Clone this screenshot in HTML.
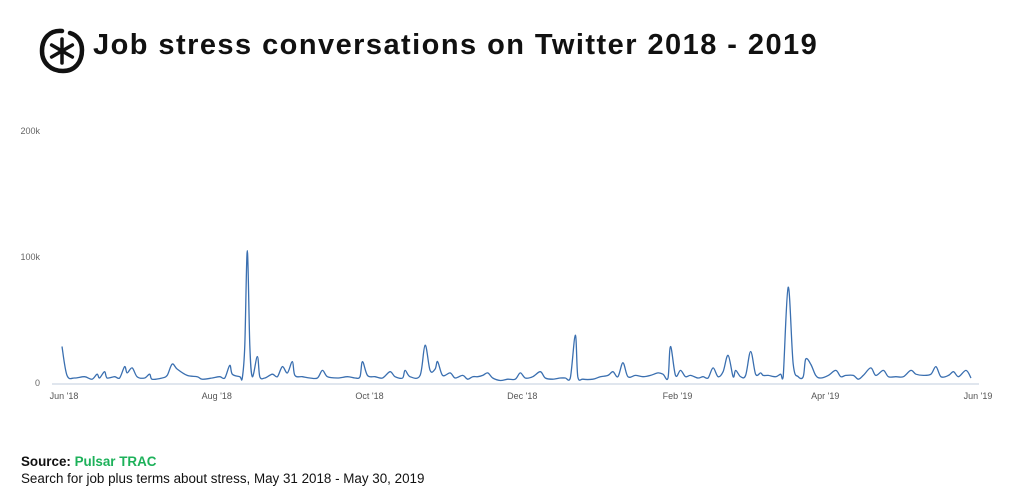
<!DOCTYPE html>
<html><head><meta charset="utf-8">
<style>
body{margin:0;width:1024px;height:500px;background:#fff;font-family:"Liberation Sans",sans-serif;overflow:hidden;position:relative}
.title{position:absolute;left:93px;top:29px;font-size:29px;font-weight:bold;color:#111;letter-spacing:1.45px}
.src{position:absolute;left:21px;top:453px;font-size:13.4px;color:#111;line-height:17px}
</style></head><body>
<svg style="position:absolute;left:38px;top:27px" width="48" height="48" viewBox="0 0 48 48">
<path d="M24 4 C12 3 4 11 4 24 C4 36 13 44 25 44 C37 44 44 35 44 23 C44 14 39 8 32 6" fill="none" stroke="#111" stroke-width="4.5" stroke-linecap="round"/>
<g stroke="#111" stroke-width="3.5" stroke-linecap="round"><line x1="24" y1="12" x2="24" y2="36"/><line x1="13.6" y1="18" x2="34.4" y2="30"/><line x1="13.6" y1="30" x2="34.4" y2="18"/></g>
</svg>
<div class="title">Job stress conversations on Twitter 2018 - 2019</div>
<svg id="chart" style="position:absolute;left:0;top:0" width="1024" height="500"></svg>
<div class="src"><b>Source: <span style="color:#1db15a">Pulsar TRAC</span></b><br>Search for job plus terms about stress, May 31 2018 - May 30, 2019</div>
<script>
const xTickLabels=["Jun '18","Aug '18","Oct '18","Dec '18","Feb '19","Apr '19","Jun '19"];
const xTickDays=[0,61,122,183,245,304,365];
const yTickValues=[0,100,200];
const yTickLabels=["0","100k","200k"];
const days=[0,2,5,9,12,14,15,17,18,21,23,25,26,28,30,33,35,36,40,42,44,46,50,54,56,60,63,65,67,68,71,72,73,74,75,76,78,79,81,84,86,88,90,92,93,96,99,102,104,106,110,114,117,119,120,122,125,128,131,133,136,137,139,143,145,147,149,150,152,155,157,160,162,164,166,168,170,172,175,178,181,183,185,188,191,193,196,199,201,203,205,206,208,212,215,218,220,222,224,226,229,232,235,238,240,242,243,245,247,249,251,254,256,258,260,262,264,266,268,269,271,273,275,277,279,280,282,285,287,288,290,292,294,296,297,299,301,303,306,309,311,313,316,318,320,323,325,328,330,333,336,339,341,344,347,349,351,354,356,358,361,363];
const values=[29,6,4,5,3,7,4,9,4,5,4,13,8,12,5,4,7,3,4,6,15,11,6,5,3,4,5,4,14,7,5,4,30,105,30,5,21,5,4,7,5,13,8,17,6,5,4,4,10,5,4,5,4,5,17,6,5,4,9,5,4,10,5,6,30,10,11,17,6,8,4,6,3,5,5,6,8,4,2,3,3,8,4,5,9,4,3,4,4,4,38,5,3,3,5,6,9,5,16,5,6,5,6,8,7,4,29,6,10,5,6,4,5,4,12,5,9,22,5,10,5,6,25,7,8,6,6,5,7,5,76,15,5,5,19,15,6,4,6,10,5,6,6,3,6,12,6,10,5,5,5,10,7,6,7,13,5,6,9,5,10,4];
const NS="http://www.w3.org/2000/svg";
const svg=document.getElementById('chart');
const x0=62,x1=976,y0=383,yTop=131;
const xs=d=>x0+(x1-x0)*d/365;
const ys=v=>y0-(y0-yTop)*v/200;
function mk(t,a){const e=document.createElementNS(NS,t);for(const k in a)e.setAttribute(k,a[k]);svg.appendChild(e);return e;}
const ax=mk('line',{x1:52,x2:979,y1:384,y2:384,stroke:'#d6dde8','stroke-width':1.5});


yTickValues.forEach((v,i)=>{const t=mk('text',{x:40,y:ys(v)+3,'text-anchor':'end','font-size':9,fill:'#666','font-family':'Liberation Sans, sans-serif'});t.textContent=yTickLabels[i];

});
xTickDays.forEach((d,i)=>{const t=mk('text',{x:xs(d)+2,y:399,'text-anchor':'middle','font-size':9,fill:'#555','font-family':'Liberation Sans, sans-serif'});t.textContent=xTickLabels[i];

});
const P=days.map((d,i)=>[xs(d),ys(values[i])]);
let path='M'+P[0][0].toFixed(1)+','+P[0][1].toFixed(1);
for(let i=0;i<P.length-1;i++){const p0=P[Math.max(0,i-1)],p1=P[i],p2=P[i+1],p3=P[Math.min(P.length-1,i+2)];const k=1/6;
let c1x=p1[0]+(p2[0]-p0[0])*k,c1y=p1[1]+(p2[1]-p0[1])*k,c2x=p2[0]-(p3[0]-p1[0])*k,c2y=p2[1]-(p3[1]-p1[1])*k;
c1y=Math.min(c1y,y0);c2y=Math.min(c2y,y0);
path+=` C${c1x.toFixed(1)},${c1y.toFixed(1)} ${c2x.toFixed(1)},${c2y.toFixed(1)} ${p2[0].toFixed(1)},${p2[1].toFixed(1)}`;}
const ln=mk('path',{d:path,fill:'none',stroke:'#3a6fb0','stroke-width':1.3,'stroke-linejoin':'round'});


</script>
</body></html>
